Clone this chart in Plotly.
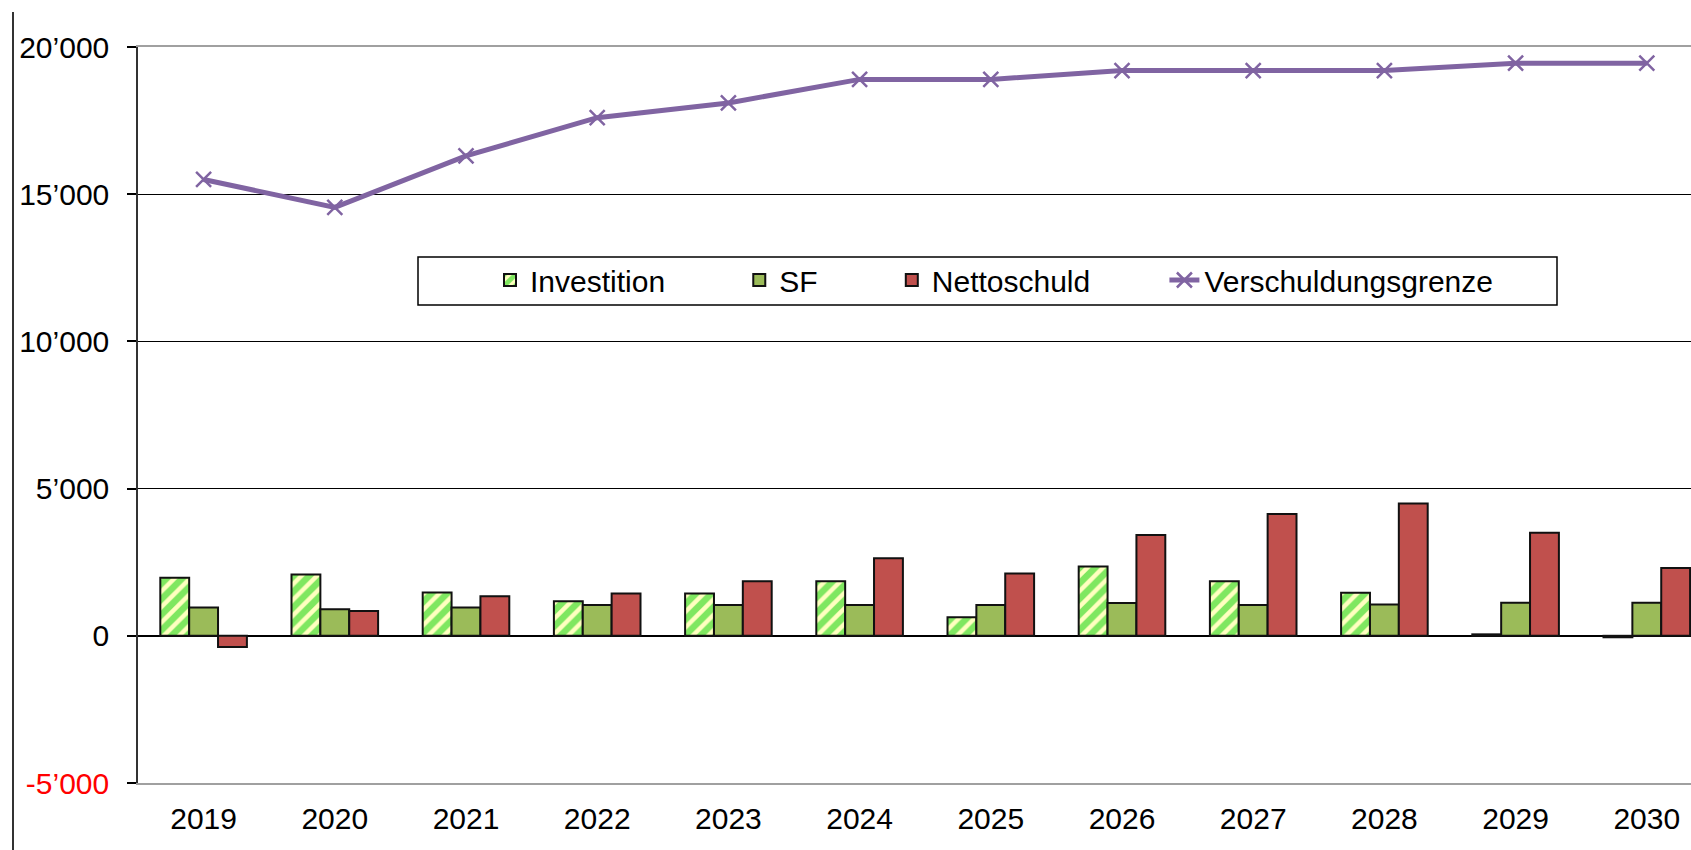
import plotly.graph_objects as go

# ---- data ----
years = [2019, 2020, 2021, 2022, 2023, 2024, 2025, 2026, 2027, 2028, 2029, 2030]
investition = [1970, 2080, 1470, 1170, 1440, 1850, 630, 2350, 1850, 1460, 50, -50]
sf = [960, 900, 960, 1050, 1050, 1050, 1050, 1110, 1050, 1060, 1120, 1120]
nettoschuld = [-380, 840, 1340, 1440, 1850, 2630, 2120, 3420, 4140, 4490, 3500, 2300]
verschuldungsgrenze = [15500, 14550, 16300, 17600, 18100, 18900, 18900, 19200, 19200, 19200, 19450, 19450]
y_tick_vals = [-5000, 0, 5000, 10000, 15000, 20000]
y_tick_text = ["-5\u2019000", "0", "5\u2019000", "10\u2019000", "15\u2019000", "20\u2019000"]
series_names = ["Investition", "SF", "Nettoschuld", "Verschuldungsgrenze"]

# ---- layout geometry (pixels of the 1691x850 page) ----
W, H = 1691, 850
plot_left, plot_top, plot_bottom = 138, 47, 783
cat_px = 131.2
x_lo = years[0] - 0.5
x_hi = x_lo + (W - plot_left) / cat_px
y_lo, y_hi = -5000, 20000
zero_px = plot_bottom - (0 - y_lo) / (y_hi - y_lo) * (plot_bottom - plot_top)

FONT = "Liberation Sans, Arial, sans-serif"
pad = "\u00a0" * 8 + "\u200a"

fig = go.Figure()
fig.add_trace(go.Bar(
    x=years, y=investition, name=series_names[0] + pad,
    marker=dict(color="#ffffc0",
                pattern=dict(shape="/", fgcolor="#00d000", bgcolor="#ffffc0", size=11, solidity=0.6),
                line=dict(color="#111111", width=2)),
))
fig.add_trace(go.Bar(
    x=years, y=sf, name=series_names[1] + pad,
    marker=dict(color="#9bbb59", line=dict(color="#111111", width=2)),
))
fig.add_trace(go.Bar(
    x=years, y=nettoschuld, name=series_names[2] + pad,
    marker=dict(color="#c0504d", line=dict(color="#111111", width=2)),
))
fig.add_trace(go.Scatter(
    x=years, y=verschuldungsgrenze, name=series_names[3],
    mode="lines+markers",
    line=dict(color="#8064a2", width=5),
    marker=dict(symbol="x-thin", size=15, line=dict(color="#8064a2", width=2.5), color="#8064a2"),
))

tick_text_colored = [
    (f'<span style="color:#ff0000">{t}</span>' if v < 0 else t)
    for v, t in zip(y_tick_vals, y_tick_text)
]

fig.update_layout(
    width=W, height=H, autosize=False,
    margin=dict(l=0, r=0, t=0, b=0, pad=0),
    paper_bgcolor="white", plot_bgcolor="white",
    barmode="group", bargap=0.34, bargroupgap=0,
    font=dict(family=FONT, size=30, color="#000000"),
    showlegend=True,
    legend=dict(
        orientation="h",
        x=490 / W, xanchor="left",
        y=1 - 280 / H, yanchor="middle",
        bgcolor="rgba(0,0,0,0)", borderwidth=0,
        font=dict(family=FONT, size=30, color="#000000"),
        traceorder="normal",
    ),
    xaxis=dict(
        domain=[plot_left / W, 1], range=[x_lo, x_hi], automargin=False,
        tickmode="array", tickvals=years, ticktext=[str(y) for y in years],
        ticks="outside", ticklen=0, tickcolor="rgba(0,0,0,0)",
        ticklabelstandoff=8,
        showgrid=False, zeroline=False,
        showline=True, linecolor="#a0a0a0", linewidth=1.5, mirror=True,
        tickfont=dict(family=FONT, size=30, color="#000000"),
    ),
    xaxis2=dict(
        overlaying="x", anchor="free", automargin=False,
        position=1 - (zero_px - 10) / H,
        range=[x_lo, x_hi],
        tickmode="array", tickvals=[y + 0.5 for y in years],
        ticks="outside", ticklen=20, tickwidth=1.5, tickcolor="#000000",
        showticklabels=False, showgrid=False, zeroline=False, showline=False,
    ),
    yaxis=dict(
        domain=[1 - plot_bottom / H, 1 - plot_top / H], range=[y_lo, y_hi], automargin=False,
        tickmode="array", tickvals=y_tick_vals, ticktext=tick_text_colored,
        ticks="outside", ticklen=9, tickwidth=1.5, tickcolor="#000000",
        ticklabelstandoff=12,
        showgrid=True, gridcolor="#000000", gridwidth=1.2,
        zeroline=True, zerolinecolor="#000000", zerolinewidth=1.5,
        showline=True, linecolor="#333333", linewidth=1.5,
        tickfont=dict(family=FONT, size=30, color="#000000"),
    ),
    yaxis2=dict(
        overlaying="y", anchor="x", side="left", range=[y_lo, y_hi], automargin=False,
        tickmode="array", tickvals=y_tick_vals,
        ticks="inside", ticklen=10, tickwidth=1.5, tickcolor="#000000",
        showticklabels=False, showgrid=False, zeroline=False, showline=False,
    ),
    shapes=[
        # legend frame
        dict(type="rect", xref="paper", yref="paper",
             x0=418 / W, x1=1557 / W, y0=1 - 305 / H, y1=1 - 257 / H,
             line=dict(color="#000000", width=1.5), fillcolor="rgba(0,0,0,0)", layer="below"),
        # outer left frame line
        dict(type="line", xref="paper", yref="paper",
             x0=13 / W, x1=13 / W, y0=0, y1=1 - 12 / H,
             line=dict(color="#333333", width=2)),
    ],
)

fig.write_html(
    "out.html",
    config={"displayModeBar": False},
    post_script="document.body.style.margin='0px'; document.body.style.overflow='hidden';",
)
